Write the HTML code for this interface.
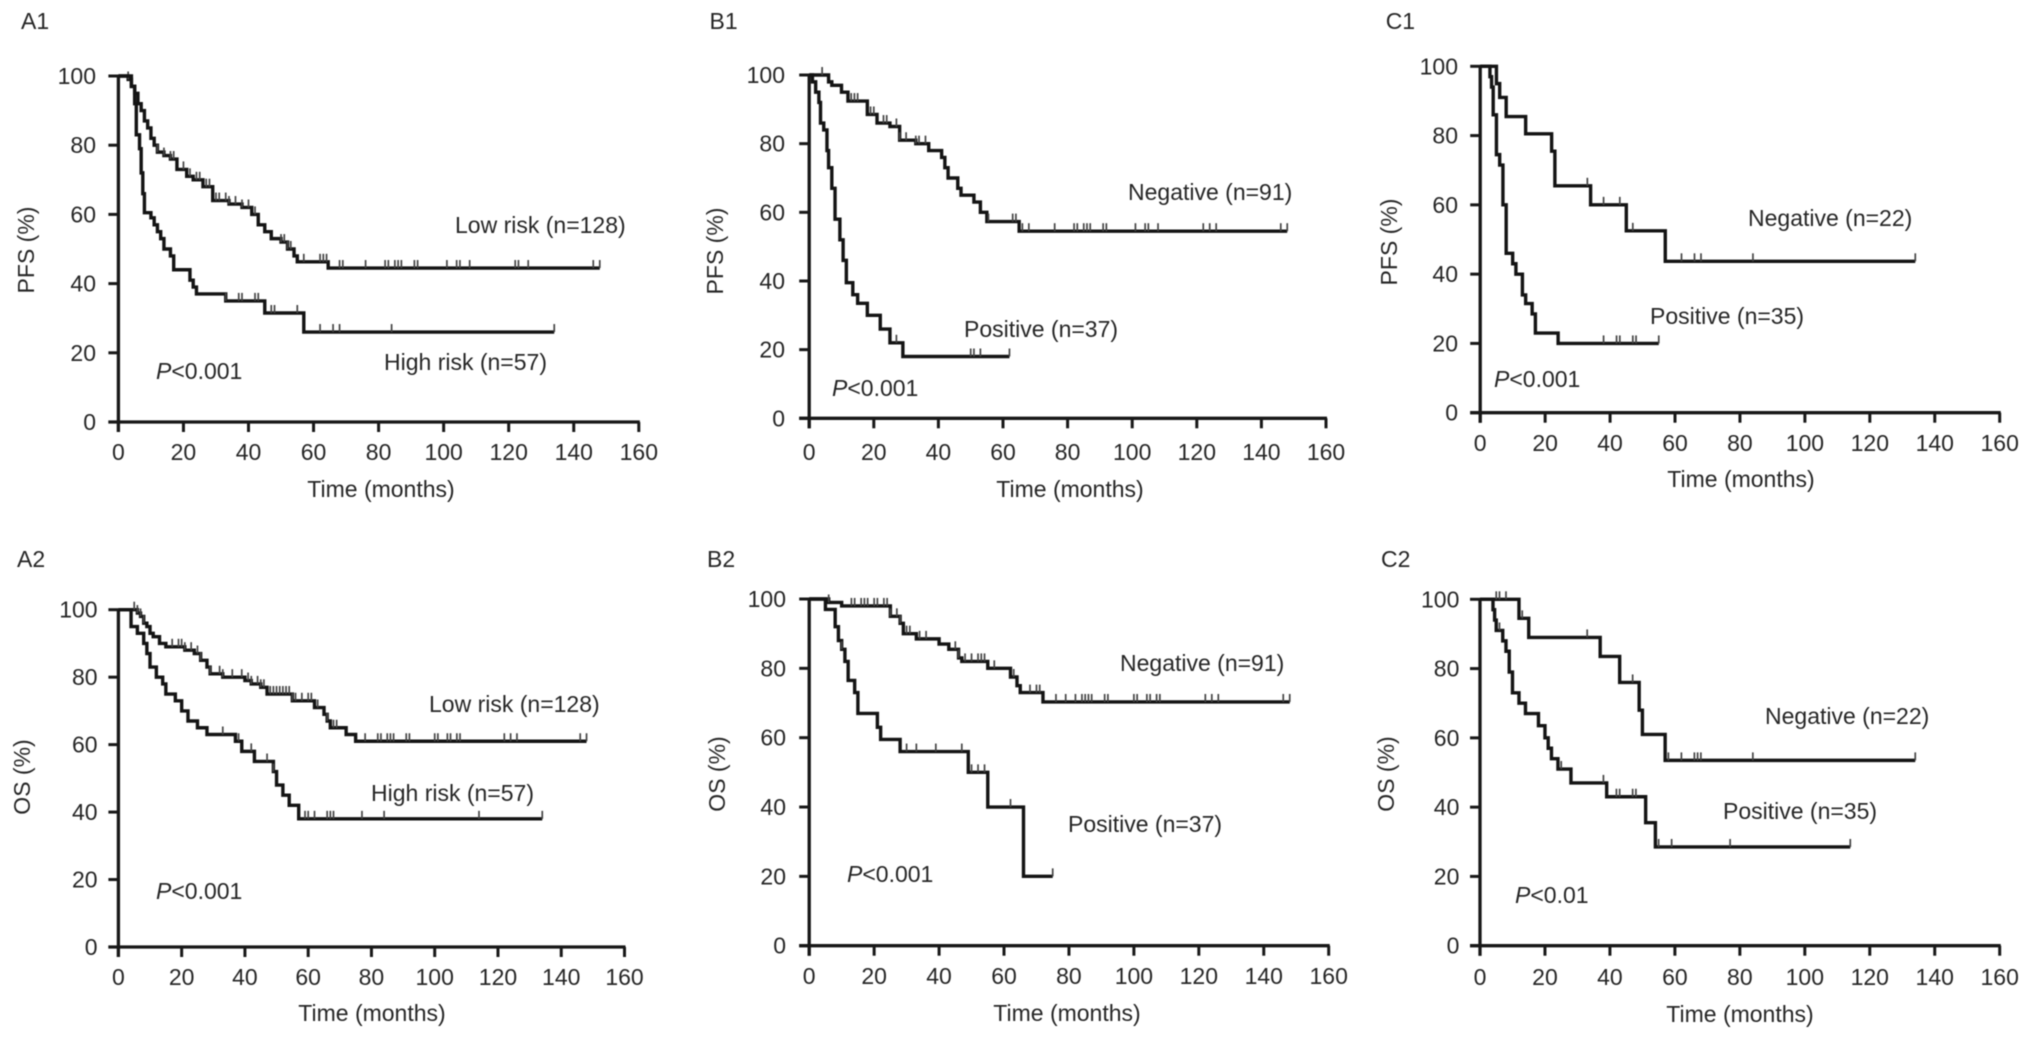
<!DOCTYPE html>
<html lang="en">
<head>
<meta charset="utf-8">
<title>Kaplan-Meier survival curves</title>
<style>
html,body{margin:0;padding:0;background:#fff;}
svg{display:block;filter:blur(0.65px);}
text{font-family:"Liberation Sans",sans-serif;font-size:23px;fill:#262626;}
</style>
</head>
<body>
<svg id="figure" width="2031" height="1039" viewBox="0 0 2031 1039" xmlns="http://www.w3.org/2000/svg">
  <g id="a1">
    <text x="21" y="29">A1</text>
    <text transform="translate(34 250) rotate(-90)" text-anchor="middle">PFS (%)</text>
    <text x="381" y="497" text-anchor="middle">Time (months)</text>
    <text x="455" y="233">Low risk (n=128)</text>
    <text x="384" y="370">High risk (n=57)</text>
    <text x="156" y="379"><tspan font-style="italic">P</tspan>&lt;0.001</text>
  </g>
  <g id="b1">
    <text x="709.5" y="29">B1</text>
    <text transform="translate(723 251) rotate(-90)" text-anchor="middle">PFS (%)</text>
    <text x="1070" y="497" text-anchor="middle">Time (months)</text>
    <text x="1128" y="200">Negative (n=91)</text>
    <text x="964" y="337">Positive (n=37)</text>
    <text x="832" y="396"><tspan font-style="italic">P</tspan>&lt;0.001</text>
  </g>
  <g id="c1">
    <text x="1385.7" y="29">C1</text>
    <text transform="translate(1397 242) rotate(-90)" text-anchor="middle">PFS (%)</text>
    <text x="1741" y="487" text-anchor="middle">Time (months)</text>
    <text x="1748" y="226">Negative (n=22)</text>
    <text x="1650" y="324">Positive (n=35)</text>
    <text x="1494" y="387"><tspan font-style="italic">P</tspan>&lt;0.001</text>
  </g>
  <g id="a2">
    <text x="17" y="567">A2</text>
    <text transform="translate(30 777) rotate(-90)" text-anchor="middle">OS (%)</text>
    <text x="372" y="1021" text-anchor="middle">Time (months)</text>
    <text x="429" y="712">Low risk (n=128)</text>
    <text x="371" y="801">High risk (n=57)</text>
    <text x="156" y="899"><tspan font-style="italic">P</tspan>&lt;0.001</text>
  </g>
  <g id="b2">
    <text x="707" y="567">B2</text>
    <text transform="translate(725 774) rotate(-90)" text-anchor="middle">OS (%)</text>
    <text x="1067" y="1021" text-anchor="middle">Time (months)</text>
    <text x="1120" y="671">Negative (n=91)</text>
    <text x="1068" y="832">Positive (n=37)</text>
    <text x="847" y="882"><tspan font-style="italic">P</tspan>&lt;0.001</text>
  </g>
  <g id="c2">
    <text x="1381" y="567">C2</text>
    <text transform="translate(1394 774) rotate(-90)" text-anchor="middle">OS (%)</text>
    <text x="1740" y="1022" text-anchor="middle">Time (months)</text>
    <text x="1765" y="724">Negative (n=22)</text>
    <text x="1723" y="819">Positive (n=35)</text>
    <text x="1515" y="903"><tspan font-style="italic">P</tspan>&lt;0.01</text>
  </g>
</svg>
<script>
const xTicks = [0,20,40,60,80,100,120,140,160];
const yTicks = [0,20,40,60,80,100];

const a1LowTime = [0,3,4,5,6,7,8,9,10,11,12,14,16,18,21,23,26,29,34,38,41,43,45,47,50,52,54,55,64.5,148];
const a1LowSurv = [100,99,97,95,92,90,87,85,82,80,78,77,76,73,71,70,68,64,63,62,60,57,55,53,52,50,48,46.3,44.5,44.5];
const a1LowCensor = [3,12,14,16,17,20,22,24,25,27,28,30,31,33,34,36,38,40,42,50,51,52,53,57,62,63,64,68,69,76,82,83,85,86,87,91,92,101,104,105,108,122,123,126,146,148];
const a1HighTime = [0,4,5,5.5,6.5,7,7.5,8,10,11,12,13,14,16,17,22,23,24,33,45,57,134];
const a1HighSurv = [100,97,92,83,79,72,66,60.5,59,57,55,53,50,48,44,41,39,37,35,31.5,26,26];
const a1HighCensor = [33,37,38,42,43,47,48,55,62,66,68,84,134];

const b1NegTime = [0,6,7,10,12,18,21,25,28,33,37,41,42,43,46,47,51,53,55,65,148];
const b1NegSurv = [100,98,97,95,92.4,88.5,86,85,81,80,78,76,73,70,67,65,63,60,57.3,54.5,54.5];
const b1NegCensor = [4,13,14,15,19,20,23,24,27,28,30,33,34,36,55.5,63,64,66,68,76,82,83,85,86,87,91,92,101,104,105,108,122,124,126,146,148];
const b1PosTime = [0,1,2,3,3.5,4.5,5.5,6,7,8,9.5,10.5,11.5,13.5,15,18,22,25,29,62];
const b1PosSurv = [100,98,95,92,86,84,78,73,67,58,52,46,39.5,36,33.5,30,26,22,18,18];
const b1PosCensor = [27,50,51,53,62];

const c1NegTime = [0,5,6,8,14,22,23,34,45,57,134];
const c1NegSurv = [100,95,91,85.5,80.5,75.5,65.5,60,52.5,43.7,43.7];
const c1NegCensor = [33,38,43,47,62,66,68,84,134];
const c1PosTime = [0,3,3.5,4,5,6,7,8,10,11,13,14,16,17,24,55];
const c1PosSurv = [100,97,94,86,74.5,71.5,60,46,43,40,34,31.5,28.5,23,20,20];
const c1PosCensor = [38,42,43,47,48,55];

const a2LowTime = [0,6,7,8,9,10,11,13,15,21,24,26,28,29,33,40,42,45,47,55,62,65,66,67,72,75,148];
const a2LowSurv = [100,99,98,96,95,93,92,90,89,88,87,85,83,81,80,79,78,77,75,73,71,69,67,65,63,61,61];
const a2LowCensor = [5,6,7,8,17,19,20,21,23,25,26,29,32,33,36,39,41,42,44,45,46,48,49,50,51,52,53,54,55,56,58,60,61,63,66,68,69,78,82,83,85,86,87,91,92,100,101,104,105,107,108,122,124,126,146,148];
const a2HighTime = [0,4,6,8,9,10,12,14,15,18,20,22,25,28,37,39,43,49,50,52,54,57,134];
const a2HighSurv = [100,95,93,90,87,83,80,78,75,73,70,67,65,63,61,58,55,52,48,45,42,38,38];
const a2HighCensor = [33,38,42,47,49,59,60,62,66,67,68,77,84,114,134];

const b2NegTime = [0,6,10,25,28,29,33,40,43,46,47,55,62,64,65,72,148];
const b2NegSurv = [100,99,98,95,93,90,88.5,87,85.5,83,82,80,77.5,75,73,70.3,70.3];
const b2NegCensor = [6,13,14,16,17,18,20,21,23,24,25,27,28,30,31,34,36,45,46,48,50,52,53,54,57,63,68,70,71,76,79,82,84,85,86,87,91,92,100,101,104,105,107,108,122,124,126,146,148];
const b2PosTime = [0,5,8,9,10,11,12,14,15,21,22,28,49,55,66,75];
const b2PosSurv = [100,97,92,88,85.5,82,76.5,73,67,63,59.5,56,50,40,20,20];
const b2PosCensor = [10,30,33,39,47,50,52,54,62,75];

const c2NegTime = [0,12,15,37,43,49,50,57,134];
const c2NegSurv = [100,94.5,89,83.5,76,68,61,53.5,53.5];
const c2NegCensor = [5,6,8,13,33,47,58,62,66,67,68,84,134];
const c2PosTime = [0,4,4.5,5,7,8,9,10,12,14,18,20,21,22,24,28,39,51,54,114];
const c2PosSurv = [100,97,94,91,88,85,79,73,70,67,63.5,60,57,54,51,47,43,35.5,28.5,28.5];
const c2PosCensor = [6,25,38,42,43,47,48,55,59,77,114];

const NS = 'http://www.w3.org/2000/svg';

function survivalAt(times, values, t) {
  let s = values[0];
  for (let i = 0; i < times.length; i++) {
    if (times[i] <= t) s = values[i];
  }
  return s;
}

function addLine(parent, x1, y1, x2, y2, width, color) {
  const el = document.createElementNS(NS, 'line');
  el.setAttribute('x1', x1);
  el.setAttribute('y1', y1);
  el.setAttribute('x2', x2);
  el.setAttribute('y2', y2);
  el.setAttribute('stroke', color);
  el.setAttribute('stroke-width', width);
  parent.appendChild(el);
  return el;
}

function drawAxes(group, box, xScale, yScale) {
  const xAxis = addLine(group, box.x0 - 10, yScale(0), xScale(160) + 1, yScale(0), 3.3, '#181818');
  
  
  const yAxis = addLine(group, xScale(0), yScale(100) - 1, xScale(0), yScale(0) + 10, 3.3, '#181818');
  
  
  xTicks.forEach(function (v) {
    const tick = addLine(group, xScale(v), yScale(0), xScale(v), yScale(0) + 10, 3, '#181818');
    
    
    const label = document.createElementNS(NS, 'text');
    
    
    label.setAttribute('x', xScale(v));
    label.setAttribute('y', box.xLabelY);
    label.setAttribute('text-anchor', 'middle');
    label.textContent = String(v);
    group.appendChild(label);
  });
  yTicks.forEach(function (v) {
    const tick = addLine(group, xScale(0) - 10, yScale(v), xScale(0), yScale(v), 3, '#181818');
    
    
    const label = document.createElementNS(NS, 'text');
    
    
    label.setAttribute('x', box.yLabelX);
    label.setAttribute('y', yScale(v) + 8);
    label.setAttribute('text-anchor', 'end');
    label.textContent = String(v);
    group.appendChild(label);
  });
}

function drawSeries(group, times, values, censor, xScale, yScale) {
  let d = 'M' + xScale(times[0]) + ' ' + yScale(values[0]);
  for (let i = 1; i < times.length; i++) {
    d += 'H' + xScale(times[i]) + 'V' + yScale(values[i]);
  }
  const curve = document.createElementNS(NS, 'path');
  
  
  curve.setAttribute('d', d);
  curve.setAttribute('fill', 'none');
  curve.setAttribute('stroke', '#141414');
  curve.setAttribute('stroke-width', '3.4');
  group.appendChild(curve);
  censor.forEach(function (t) {
    const y = yScale(survivalAt(times, values, t));
    const mark = addLine(group, xScale(t), y - 8, xScale(t), y, 1.7, '#444');
    
    
  });
}

function drawPanel(id, box, seriesList) {
  const group = document.getElementById(id);
  const xScale = function (t) { return box.x0 + t * (box.x160 - box.x0) / 160; };
  const yScale = function (s) { return box.y0 - s * (box.y0 - box.y100) / 100; };
  drawAxes(group, box, xScale, yScale);
  seriesList.forEach(function (s) {
    drawSeries(group, s[0], s[1], s[2], xScale, yScale);
  });
}

drawPanel('a1', {x0:118.4, x160:638.8, y100:76, y0:422, xLabelY:460, yLabelX:96},
  [[a1LowTime,a1LowSurv,a1LowCensor],[a1HighTime,a1HighSurv,a1HighCensor]]);
drawPanel('b1', {x0:809.2, x160:1326, y100:75, y0:418.3, xLabelY:460, yLabelX:785},
  [[b1NegTime,b1NegSurv,b1NegCensor],[b1PosTime,b1PosSurv,b1PosCensor]]);
drawPanel('c1', {x0:1480.2, x160:1999.7, y100:66.3, y0:412.7, xLabelY:451, yLabelX:1458},
  [[c1NegTime,c1NegSurv,c1NegCensor],[c1PosTime,c1PosSurv,c1PosCensor]]);
drawPanel('a2', {x0:118.4, x160:624.5, y100:609.7, y0:947, xLabelY:985, yLabelX:97.6},
  [[a2LowTime,a2LowSurv,a2LowCensor],[a2HighTime,a2HighSurv,a2HighCensor]]);
drawPanel('b2', {x0:809.2, x160:1328.7, y100:599, y0:945.7, xLabelY:984, yLabelX:786},
  [[b2NegTime,b2NegSurv,b2NegCensor],[b2PosTime,b2PosSurv,b2PosCensor]]);
drawPanel('c2', {x0:1480, x160:1999.7, y100:599.3, y0:945.7, xLabelY:985, yLabelX:1459.4},
  [[c2NegTime,c2NegSurv,c2NegCensor],[c2PosTime,c2PosSurv,c2PosCensor]]);
</script>
</body>
</html>
